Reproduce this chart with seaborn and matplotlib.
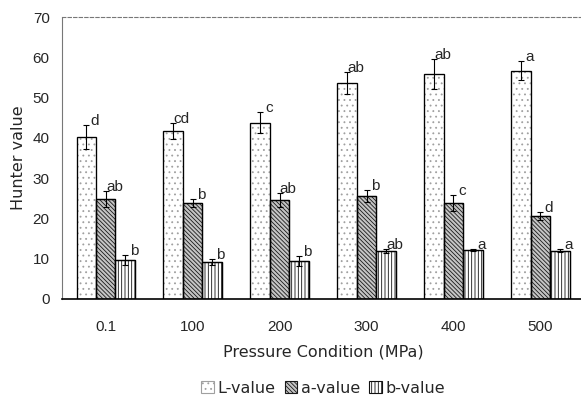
import numpy as np
import pandas as pd
import matplotlib
matplotlib.use("Agg")
import matplotlib.pyplot as plt
from matplotlib.patches import Rectangle
import seaborn as sns

# Data
pressures = ["0.1", "100", "200", "300", "400", "500"]
series = ["L-value", "a-value", "b-value"]
l_mean = [40.2, 41.8, 43.8, 53.6, 55.8, 56.7]
l_err = [2.9, 2.0, 2.6, 2.8, 3.7, 2.4]
a_mean = [24.9, 23.8, 24.6, 25.5, 23.8, 20.6]
a_err = [2.0, 1.0, 1.8, 1.5, 1.9, 0.9]
b_mean = [9.7, 9.2, 9.4, 11.9, 12.2, 12.0]
b_err = [1.2, 0.8, 1.2, 0.5, 0.3, 0.3]
l_letters = ["d", "cd", "c", "ab", "ab", "a"]
a_letters = ["ab", "b", "ab", "b", "c", "d"]
b_letters = ["b", "b", "b", "ab", "a", "a"]

df = pd.DataFrame({
    "pressure": pressures * 3,
    "series": np.repeat(series, len(pressures)),
    "value": l_mean + a_mean + b_mean,
    "err": l_err + a_err + b_err,
    "letter": l_letters + a_letters + b_letters,
})

sns.set_style("white")
plt.rcParams["font.family"] = ["Liberation Sans", "DejaVu Sans"]
plt.rcParams["hatch.linewidth"] = 0.6
WIDE = ["DejaVu Sans"]

fig = plt.figure(figsize=(5.81, 3.98), dpi=100)
ax = fig.add_axes([0.107, 0.249, 0.898, 0.708])

fills = {"L-value": "white", "a-value": "#c4c4c4", "b-value": "white"}
sns.barplot(data=df, x="pressure", y="value", hue="series", order=pressures,
            hue_order=series, width=0.67, errorbar=None, ax=ax,
            palette=fills, edgecolor="black", saturation=1,
            linewidth=0.9, legend=False)

hatches = {"L-value": "...", "a-value": "\\\\\\\\\\\\\\\\", "b-value": "|||||"}
hatch_ec = {"L-value": "#a0a0a0", "a-value": "#1a1a1a", "b-value": "#111111"}
bars = [p for p in ax.patches if isinstance(p, Rectangle)][:len(df)]
for i, p in enumerate(bars):
    s = series[i // len(pressures)]
    p.set_hatch(hatches[s])
    p.set_edgecolor(hatch_ec[s])
    # black outline on top of the hatched fill
    ax.add_patch(Rectangle(p.get_xy(), p.get_width(), p.get_height(),
                           fill=False, edgecolor="black", linewidth=0.9, zorder=3))
    row = df.iloc[i]
    cx = p.get_x() + p.get_width() / 2
    ax.errorbar(cx, row["value"], yerr=row["err"], fmt="none", ecolor="black",
                elinewidth=0.8, capsize=2.5, capthick=0.8, zorder=4)
    ax.text(cx + 0.1, row["value"] + row["err"] + 1.0, row["letter"],
            ha="center", va="center", fontsize=11, zorder=5)

ax.set_ylim(0, 70)
ax.set_xlim(-0.5, 5.5)
ax.set_yticks(range(0, 71, 10))
ax.tick_params(axis="both", length=0, labelsize=11)
ax.tick_params(axis="y", pad=9)
ax.tick_params(axis="x", pad=15)
ax.set_xlabel("Pressure Condition (MPa)", fontsize=11.5, family=WIDE, labelpad=8)
ax.set_ylabel("Hunter value", fontsize=11.5, family=WIDE, labelpad=5)

ax.spines["top"].set_linestyle((0, (3, 2)))
ax.spines["top"].set_color("#777777")
ax.spines["top"].set_linewidth(0.8)
ax.spines["left"].set_linestyle((0, (1, 1)))
ax.spines["left"].set_color("#777777")
ax.spines["left"].set_linewidth(0.8)
ax.spines["right"].set_visible(False)
ax.spines["bottom"].set_color("black")
ax.spines["bottom"].set_linewidth(1.2)

handles = [Rectangle((0, 0), 1, 1, facecolor=fills[s], edgecolor=hatch_ec[s],
                     hatch=hatches[s], linewidth=0.8) for s in series]
fig.legend(handles, series, loc="center", bbox_to_anchor=(0.556, 0.025), ncol=3,
           frameon=False, handlelength=0.8, handleheight=0.8,
           handletextpad=0.2, columnspacing=0.6,
           prop={"family": WIDE, "size": 11.5})

fig.savefig("out.png", dpi=100)
